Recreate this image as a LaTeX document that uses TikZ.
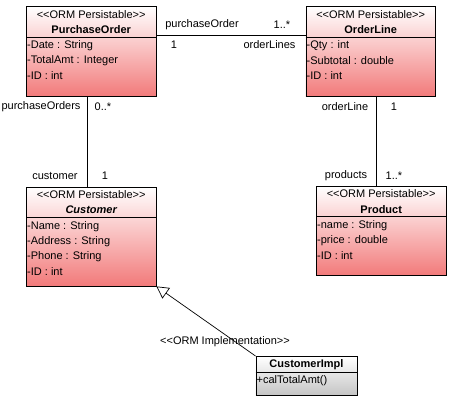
\documentclass[tikz,border=0pt]{standalone}
\usepackage{fontspec}
\setmainfont{Liberation Sans}[Ligatures=TeXOff]
\usetikzlibrary{arrows.meta}
\usetikzlibrary{positioning}
\definecolor{ormred}{RGB}{242,122,122}
\definecolor{implgray}{RGB}{196,196,196}
\tikzset{classbox/.style = {draw, line width=0.9pt, top color=white, bottom color=ormred,
                            minimum width=129.5pt, anchor=north west, inner sep=0}}
\tikzset{implbox/.style = {classbox, top color=white, bottom color=implgray, minimum width=101pt}}
\tikzset{stereo/.style = {inner sep=0}}
\tikzset{cname/.style = {inner sep=0, font=\fontsize{11}{12}\selectfont\bfseries}}
\tikzset{attr/.style = {inner sep=0, anchor=west}}
\tikzset{role/.style = {inner sep=0}}
\tikzset{assoc/.style = {line width=0.9pt}}
\tikzset{realize/.style = {line width=0.7pt, -{Triangle[open, length=12pt, width=13pt]}}}

\begin{document}
\begin{tikzpicture}[x=1pt, y=-1pt, font=\fontsize{11}{12}\selectfont]
    \useasboundingbox (0, 0) rectangle (451, 402);

    % PurchaseOrder
    \node [classbox, minimum height=90pt] (po) at (26, 6) {};
    \draw [line width=0.9pt] ([yshift=-31.5pt]po.north west) -- ([yshift=-31.5pt]po.north east);
    \node [stereo] (po-st) at ([yshift=-8.5pt]po.north) {<<ORM Persistable>>};
    \node [cname] (po-nm) at ([yshift=-23.5pt]po.north) {PurchaseOrder};
    \foreach \a [count=\i] in {-Date : String, -TotalAmt : Integer, -ID : int} {
      \node [attr] (po-a\i) at ([xshift=1pt, yshift={(-25-15*\i)*1pt}]po.north west) {\a};
    }

    % OrderLine
    \node [classbox, minimum height=90pt] (ol) at (305.5, 6) {};
    \draw [line width=0.9pt] ([yshift=-31.5pt]ol.north west) -- ([yshift=-31.5pt]ol.north east);
    \node [stereo] (ol-st) at ([yshift=-8.5pt]ol.north) {<<ORM Persistable>>};
    \node [cname] (ol-nm) at ([yshift=-23.5pt]ol.north) {OrderLine};
    \foreach \a [count=\i] in {-Qty : int, -Subtotal : double, -ID : int} {
      \node [attr] (ol-a\i) at ([xshift=1pt, yshift={(-25-15*\i)*1pt}]ol.north west) {\a};
    }

    % Customer
    \node [classbox, minimum height=99pt] (cust) at (26, 186.5) {};
    \draw [line width=0.9pt] ([yshift=-30.5pt]cust.north west) -- ([yshift=-30.5pt]cust.north east);
    \node [stereo] (cust-st) at ([yshift=-8pt]cust.north) {<<ORM Persistable>>};
    \node [cname, font=\fontsize{11}{12}\selectfont\bfseries\itshape] (cust-nm) at ([yshift=-23pt]cust.north) {Customer};
    \foreach \a [count=\i] in {-Name : String, -Address : String, -Phone : String, -ID : int} {
      \node [attr] (cust-a\i) at ([xshift=1pt, yshift={(-25-15*\i)*1pt}]cust.north west) {\a};
    }

    % Product
    \node [classbox, minimum height=89pt] (prod) at (316, 186) {};
    \draw [line width=0.9pt] ([yshift=-30.5pt]prod.north west) -- ([yshift=-30.5pt]prod.north east);
    \node [stereo] (prod-st) at ([yshift=-7.5pt]prod.north) {<<ORM Persistable>>};
    \node [cname] (prod-nm) at ([yshift=-23.5pt]prod.north) {Product};
    \foreach \a [count=\i] in {-name : String, -price : double, -ID : int} {
      \node [attr] (prod-a\i) at ([xshift=1pt, yshift={(-25-15*\i)*1pt}]prod.north west) {\a};
    }

    % CustomerImpl
    \node [implbox, minimum height=39pt] (impl) at (255.5, 356) {};
    \draw [line width=0.9pt] ([yshift=-16pt]impl.north west) -- ([yshift=-16pt]impl.north east);
    \node [cname] (impl-nm) at ([yshift=-8.5pt]impl.north) {CustomerImpl};
    \node [attr] (impl-a1) at ([xshift=1pt, yshift=-25pt]impl.north west) {+calTotalAmt()};

    % associations
    \draw [assoc] ([yshift=-29pt]po.north east) -- ([yshift=-29pt]ol.north west);
    \draw [assoc] ([xshift=-4pt]po.south) -- ([xshift=-4pt]cust.north);
    \draw [assoc] ([xshift=6pt]ol.south) -- ([xshift=6pt]ol.south |- prod.north);
    \draw [realize] (impl.north west) -- (cust.south east);

    \node [role] (r-po) at (202, 25) {purchaseOrder};
    \node [role] (m-ol) at (282, 25) {1..*};
    \node [role] (m-po) at (174, 45) {1};
    \node [role] (r-ol) at (269.5, 45) {orderLines};
    \node [role] (r-pos) at (41, 107) {purchaseOrders};
    \node [role] (m-pos) at (103, 107) {0..*};
    \node [role] (r-cust) at (55, 176) {customer};
    \node [role] (m-cust) at (105, 176) {1};
    \node [role] (r-oln) at (345, 107) {orderLine};
    \node [role] (m-oln) at (394, 107) {1};
    \node [role] (r-prod) at (346, 176) {products};
    \node [role] (m-prod) at (394, 176) {1..*};
    \node [role] (r-impl) at (225, 342) {<<ORM Implementation>>};
  \end{tikzpicture}
\end{document}
